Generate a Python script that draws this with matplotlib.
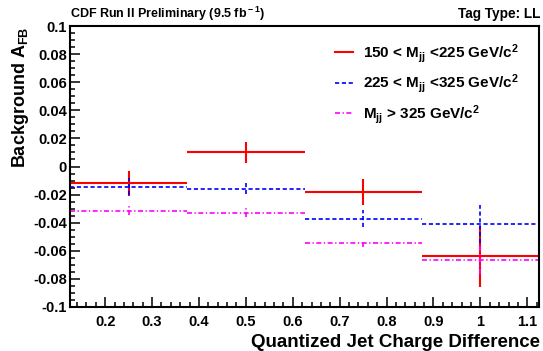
import matplotlib
matplotlib.use("Agg")
import matplotlib.pyplot as plt
import numpy as np
from matplotlib.ticker import MultipleLocator, FuncFormatter

plt.rcParams['font.family'] = ['Liberation Sans', 'DejaVu Sans']
plt.rcParams['font.weight'] = 'bold'
plt.rcParams['mathtext.fontset'] = 'custom'
plt.rcParams['mathtext.rm'] = 'Liberation Sans:bold'
plt.rcParams['mathtext.it'] = 'Liberation Sans:bold'
plt.rcParams['mathtext.bf'] = 'Liberation Sans:bold'

# Data
bin_edges = [0.125, 0.375, 0.625, 0.875, 1.125]
bin_centers = [0.25, 0.5, 0.75, 1.0]

afb_low = [-0.012, 0.010, -0.018, -0.064]
err_low = [0.009, 0.0075, 0.0093, 0.0215]

afb_mid = [-0.0143, -0.0159, -0.0373, -0.0406]
err_mid = [0.006, 0.004, 0.006, 0.0135]

afb_high = [-0.0314, -0.0328, -0.0546, -0.0667]
err_high = [0.003, 0.003, 0.0025, 0.010]

labels = [r'150 < M$_{\rm jj}$ <225 GeV/c$^{2}$',
          r'225 < M$_{\rm jj}$ <325 GeV/c$^{2}$',
          r'M$_{\rm jj}$ > 325 GeV/c$^{2}$']

W, H = 543, 351
fig = plt.figure(figsize=(W / 100, H / 100), dpi=100)
ax = fig.add_axes([70 / W, 1 - 307 / H, 469 / W, 281 / H])

series = [
    (afb_low, err_low, '#ff0000', '-', 1.5),
    (afb_mid, err_mid, '#0000ff', (0, (2.5, 1.6)), 1.2),
    (afb_high, err_high, '#ff00ff', (0, (3, 1.5, 0.8, 1.5)), 1.2),
]

left = np.array(bin_edges[:-1])
right = np.array(bin_edges[1:])
handles = []
for (vals, errs, col, ls, lw), lab in zip(series, labels):
    v = np.array(vals)
    e = np.array(errs)
    ax.hlines(v, left, right, colors=col, linestyles=[ls], linewidth=lw)
    ax.vlines(bin_centers, v - e, v + e, colors=col, linestyles=[ls], linewidth=lw)
    h, = ax.plot([], [], color=col, ls=ls, lw=lw, label=lab)
    handles.append(h)

ax.set_xlim(0.125, 1.125)
ax.set_ylim(-0.1, 0.1)
ax.xaxis.set_major_locator(MultipleLocator(0.1))
ax.xaxis.set_minor_locator(MultipleLocator(0.02))
ax.yaxis.set_major_locator(MultipleLocator(0.02))
ax.yaxis.set_minor_locator(MultipleLocator(0.005))


def yfmt(v, pos):
    if abs(v) < 1e-9:
        return '0'
    if abs(v * 10 - round(v * 10)) < 1e-9:
        return '%.1f' % v
    return '%.2f' % v


def xfmt(v, pos):
    if abs(v - round(v)) < 1e-9:
        return '%d' % round(v)
    return '%.1f' % v


ax.yaxis.set_major_formatter(FuncFormatter(yfmt))
ax.xaxis.set_major_formatter(FuncFormatter(xfmt))

ax.tick_params(which='both', direction='in', top=False, right=False, labelsize=10.5, width=1.1)
ax.tick_params(which='major', length=7.2)
ax.tick_params(axis='y', which='major', pad=2.2)
ax.tick_params(axis='x', which='major', pad=5.5)
ax.tick_params(which='minor', length=3.6)
for sp in ax.spines.values():
    sp.set_linewidth(1.5)

fig.text(25 / W, 1 - 27 / H, r'Background A$_{\rm FB}$', fontsize=13, fontweight='bold',
         rotation=90, rotation_mode='anchor', ha='right', va='baseline')
fig.text(540 / W, 1 - 347 / H, 'Quantized Jet Charge Difference', fontsize=13.5,
         fontweight='bold', ha='right', va='baseline')

fig.text(70 / W, 1 - 18 / H, 'CDF Run II Preliminary (9.5 fb$^{\\rm -1}$)', fontsize=9.0,
         fontweight='bold', ha='left', va='baseline')
fig.text(540 / W, 1 - 18 / H, 'Tag Type: LL', fontsize=9.8, fontweight='bold',
         ha='right', va='baseline')

leg = ax.legend(handles=handles, loc='upper left', bbox_to_anchor=(335 / W, 1 - 42 / H),
                bbox_transform=fig.transFigure, frameon=False, fontsize=11,
                handlelength=1.18, handletextpad=0.65, labelspacing=0.5,
                borderpad=0, borderaxespad=0)

fig.savefig('out.png', dpi=100)
